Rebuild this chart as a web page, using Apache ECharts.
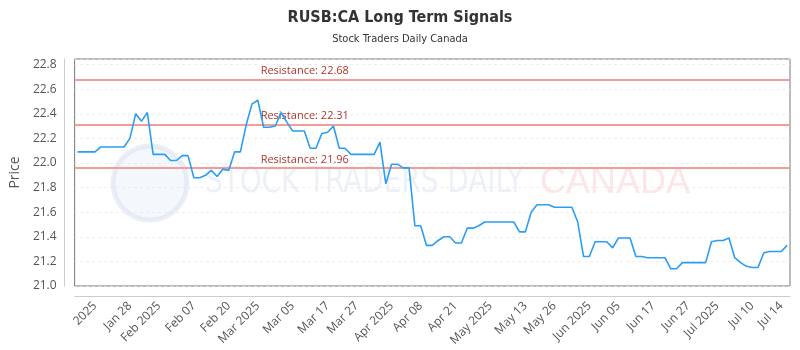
<!DOCTYPE html>
<html>
<head>
<meta charset="utf-8">
<script src="https://cdn.jsdelivr.net/npm/echarts@6/dist/echarts.min.js"></script>
<style>
  html, body { margin: 0; padding: 0; background: #fff; }
  #chart { width: 800px; height: 350px; }
</style>
</head>
<body>
<div id="chart"></div>
<script>
// closing prices, one per point on the x axis
const prices = [
  22.09, 22.09, 22.09, 22.09, 22.13, 22.13, 22.13, 22.13, 22.13, 22.20,
  22.40, 22.34, 22.41, 22.07, 22.07, 22.07, 22.02, 22.02, 22.06, 22.06,
  21.88, 21.88, 21.90, 21.94, 21.89, 21.95, 21.94, 22.09, 22.09, 22.31,
  22.48, 22.51, 22.29, 22.29, 22.30, 22.41, 22.33, 22.26, 22.26, 22.26,
  22.12, 22.12, 22.24, 22.25, 22.30, 22.12, 22.12, 22.07, 22.07, 22.07,
  22.07, 22.07, 22.17, 21.83, 21.99, 21.99, 21.96, 21.96, 21.49, 21.49,
  21.33, 21.33, 21.37, 21.40, 21.40, 21.35, 21.35, 21.47, 21.47, 21.49,
  21.52, 21.52, 21.52, 21.52, 21.52, 21.52, 21.44, 21.44, 21.60, 21.66,
  21.66, 21.66, 21.64, 21.64, 21.64, 21.64, 21.52, 21.24, 21.24, 21.36,
  21.36, 21.36, 21.31, 21.39, 21.39, 21.39, 21.24, 21.24, 21.23, 21.23,
  21.23, 21.23, 21.14, 21.14, 21.19, 21.19, 21.19, 21.19, 21.19, 21.36,
  21.37, 21.37, 21.39, 21.23, 21.19, 21.16, 21.15, 21.15, 21.27, 21.28,
  21.28, 21.28, 21.33
]

// x axis labels and the point each one sits under
const tickLabels = [
  '2025', 'Jan 28', 'Feb 2025', 'Feb 07', 'Feb 20', 'Mar 2025', 'Mar 05', 'Mar 17',
  'Mar 27', 'Apr 2025', 'Apr 08', 'Apr 21', 'May 2025', 'May 13', 'May 26', 'Jun 2025',
  'Jun 05', 'Jun 17', 'Jun 27', 'Jul 2025', 'Jul 10', 'Jul 14'
]
const tickIndex = [3, 9, 14, 20, 26, 31, 37, 43, 48, 54, 59, 65, 71, 77, 82, 88, 93, 99, 105, 110, 116, 121]

const resistance = [22.68, 22.31, 21.96]

const categories = prices.map((_, i) => String(i))

const chart = echarts.init(document.getElementById('chart'))

const FONT = '"Open Sans", sans-serif'
const NARROW = '"Liberation Sans Narrow", "DejaVu Sans Condensed", sans-serif'

const option = {
  animation: false,
  title: {
    text: 'RUSB:CA Long Term Signals',
    subtext: 'Stock Traders Daily Canada',
    left: 'center',
    top: 5,
    itemGap: 8,
    textStyle: { fontFamily: NARROW, fontSize: 16, fontWeight: 'bold', color: '#333' },
    subtextStyle: { fontFamily: NARROW, fontSize: 11, color: '#333' }
  },
  graphic: [
    {
      type: 'circle', z: 0, silent: true,
      shape: { cx: 150, cy: 183, r: 37 },
      style: { fill: 'rgba(228,234,246,0.4)', stroke: 'rgba(220,228,242,0.6)', lineWidth: 5 }
    },
    {
      type: 'text', z: 0, silent: true, x: 205, y: 165, scaleX: 0.86,
      style: { text: 'STOCK TRADERS DAILY', font: '36px ' + NARROW, fill: 'rgba(200,210,230,0.32)' }
    },
    {
      type: 'text', z: 0, silent: true, x: 540, y: 165,
      style: { text: 'CANADA', font: '36px "Liberation Sans", sans-serif', fill: 'rgba(245,170,170,0.28)' }
    }
  ],
  grid: {
    left: 70,
    right: 10,
    top: 59,
    bottom: 64,
    show: true,
    borderColor: '#777',
    borderWidth: 1,
    backgroundColor: 'transparent'
  },
  xAxis: {
    type: 'category',
    data: categories,
    boundaryGap: true,
    offset: 10,
    axisLine: { lineStyle: { color: '#ccc' } },
    axisTick: { show: false },
    axisLabel: {
      rotate: 45,
      margin: 8,
      color: '#555',
      fontFamily: FONT,
      fontSize: 12,
      interval: (idx) => tickIndex.includes(idx),
      formatter: (val, idx) => tickLabels[tickIndex.indexOf(idx)] || ''
    },
    splitLine: { show: false }
  },
  yAxis: {
    type: 'value',
    min: 21.0,
    max: 22.845,
    interval: 0.2,
    offset: 10,
    name: 'Price',
    nameLocation: 'middle',
    nameGap: 38,
    nameTextStyle: { color: '#555', fontFamily: FONT, fontSize: 14 },
    axisLine: { show: true, lineStyle: { color: '#ccc' } },
    axisTick: { show: false },
    axisLabel: {
      color: '#555',
      fontFamily: FONT,
      fontSize: 12,
      margin: 8,
      showMaxLabel: false,
      formatter: (v) => v.toFixed(1)
    },
    splitLine: { lineStyle: { color: '#e6e6e6', type: [2, 4] } }
  },
  series: [{
    type: 'line',
    data: prices,
    symbol: 'none',
    z: 5,
    lineStyle: { color: '#2a9df4', width: 1.6 },
    markLine: {
      silent: true,
      symbol: 'none',
      lineStyle: { color: '#f29d97', width: 2, type: 'solid' },
      label: {
        position: 'insideStartTop',
        distance: [186, 3],
        color: '#b0352c',
        fontFamily: FONT,
        fontSize: 11,
        formatter: (p) => 'Resistance: ' + p.value.toFixed(2)
      },
      data: resistance.map(v => ({ yAxis: v }))
    }
  }]
}

chart.setOption(option)
</script>
</body>
</html>
